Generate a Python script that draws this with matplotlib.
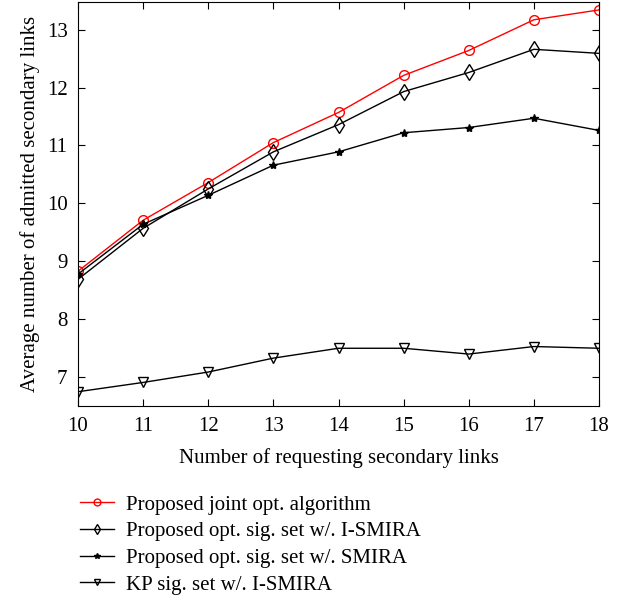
import numpy as np
import matplotlib.pyplot as plt

plt.rcParams['font.family'] = ['Liberation Serif', 'DejaVu Serif']

links = np.array([10, 11, 12, 13, 14, 15, 16, 17, 18])
joint = np.array([8.83, 9.71, 10.36, 11.05, 11.57, 12.21, 12.64, 13.17, 13.34])
opt_ismira = np.array([8.69, 9.57, 10.25, 10.89, 11.36, 11.93, 12.26, 12.66, 12.59])
opt_smira = np.array([8.78, 9.64, 10.14, 10.66, 10.89, 11.22, 11.31, 11.47, 11.26])
kp_ismira = np.array([6.75, 6.91, 7.09, 7.33, 7.50, 7.50, 7.40, 7.53, 7.50])

labels = ["Proposed joint opt. algorithm",
          "Proposed opt. sig. set w/. I-SMIRA",
          "Proposed opt. sig. set w/. SMIRA",
          "KP sig. set w/. I-SMIRA"]

fig = plt.figure(figsize=(6.24, 6.0), dpi=100)
ax = fig.add_axes([0.125, 0.323, 0.835, 0.674])

ax.plot(links, joint, 'o-', color='red', mfc='none', ms=7, lw=1, label=labels[0])
ax.plot(links, opt_ismira, 'd-', color='black', mfc='none', ms=8, lw=1, label=labels[1])
ax.plot(links, opt_smira, '*-', color='black', ms=6, lw=1, label=labels[2])
ax.plot(links, kp_ismira, 'v-', color='black', mfc='none', ms=6.5, lw=1, label=labels[3])

ax.set_xlim(10, 18)
ax.set_ylim(6.5, 13.48)
ax.set_xticks(links)
ax.set_yticks([7, 8, 9, 10, 11, 12, 13])
ax.tick_params(direction='in', top=True, right=True, labelsize=15, length=5, pad=7.5)
ax.set_xlabel("Number of requesting secondary links", fontsize=15, labelpad=9)
ax.set_ylabel("Average number of admitted secondary links", fontsize=15, labelpad=5)

fig.legend(loc='upper left', bbox_to_anchor=(0.128, 0.175), frameon=False,
           fontsize=15, handlelength=1.63, handletextpad=0.58, labelspacing=0.34,
           borderpad=0, borderaxespad=0, markerscale=0.7)

fig.savefig("out.png", dpi=100)
